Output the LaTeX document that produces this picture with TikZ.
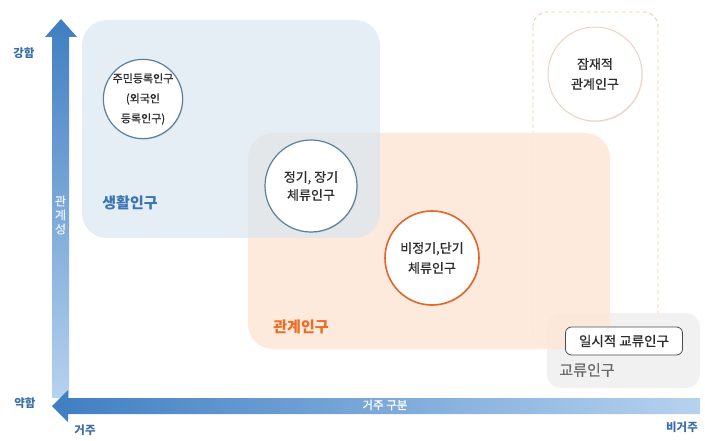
\documentclass[tikz,border=0pt]{standalone}
\usepackage{fontspec}
\setmainfont{Noto Sans CJK KR}
\newfontfamily\krmed[FakeBold=0.9]{Noto Sans CJK KR}
\usetikzlibrary{shadows}
\definecolor{bluereg}{RGB}{218,231,241}
\definecolor{orangereg}{RGB}{253,232,218}
\definecolor{grayreg}{RGB}{241,241,241}
\definecolor{dashcol}{RGB}{240,201,179}
\definecolor{circblue}{RGB}{91,127,156}
\definecolor{circorange}{RGB}{226,102,43}
\definecolor{circpeach}{RGB}{240,210,191}
\definecolor{txt}{RGB}{45,45,45}
\definecolor{lifeblue}{RGB}{59,115,181}
\definecolor{relorange}{RGB}{234,109,37}
\definecolor{exgray}{RGB}{107,107,107}
\definecolor{axisblue}{RGB}{58,110,168}
\definecolor{arrdark}{RGB}{64,126,194}
\definecolor{arrlight}{RGB}{182,210,238}
\begin{document}
\begin{tikzpicture}[x=1pt,y=-1pt,
  circ/.style={circle, fill=white, inner sep=0pt, minimum size=#1, align=center, text=txt,
    drop shadow={shadow xshift=0.8pt, shadow yshift=-1pt, opacity=0.18}},
  fs/.style 2 args={font={\krmed\fontsize{#1pt}{#2pt}\selectfont}},
  axislbl/.style={text=axisblue, font={\fontsize{11.5pt}{14pt}\selectfont\bfseries}},
  reglbl/.style={font={\fontsize{15pt}{18pt}\selectfont\bfseries}}]
\useasboundingbox (0,0) rectangle (705,441);
% dashed potential region
\draw[dashcol, line width=0.9pt, dash pattern=on 4pt off 3pt, rounded corners=14pt] (533,12) rectangle (658,345);
% exchange region
\fill[grayreg, rounded corners=14pt] (547,313) rectangle (700,388);
% relation region
\fill[orangereg, opacity=0.93, rounded corners=25pt] (248,133) rectangle (610,349);
% life region
\fill[bluereg, opacity=0.7, rounded corners=25pt] (82,20) rectangle (380,238);
% circles
\node[circ=68pt, draw=circblue, line width=1.2pt, fs={11}{20}] (c1) at (143,99) {주민등록인구\\(외국인\\등록인구)};
\node[circ=92pt, draw=circblue, line width=1.2pt, fs={13}{18}] (c2) at (311,186) {정기, 장기\\체류인구};
\node[circ=94pt, draw=circorange, line width=1.6pt, fs={13}{20}] (c3) at (432,258) {비정기,단기\\체류인구};
\node[circ=94pt, draw=circpeach, line width=1pt, fs={13}{20}] (c4) at (595,74) {잠재적\\관계인구};
% region labels
\node[reglbl, text=lifeblue] (lLife) at (130,203) {생활인구};
\node[reglbl, text=relorange] (lRel) at (301,327) {관계인구};
\node[text=exgray, font={\krmed\fontsize{15pt}{18pt}\selectfont}] (lEx) at (587,370) {교류인구};
\node[draw=txt!85, line width=0.8pt, fill=white, rounded corners=6pt, text=txt,
      minimum width=117pt, minimum height=28pt, inner sep=0pt,
      font={\krmed\fontsize{13.5pt}{16pt}\selectfont}] (tmp) at (624,341) {일시적 교류인구};
% axes
\shade[top color=arrdark, bottom color=arrlight]
  (52,398) -- (52,37) -- (45,37) -- (61,19) -- (77,37) -- (69,37) -- (69,398) -- cycle;
\shade[left color=arrdark, right color=arrlight]
  (700,398) -- (68,398) -- (68,390) -- (52,406) -- (68,422) -- (68,414) -- (700,414) -- cycle;
\node[text=white, font={\krmed\fontsize{11.5pt}{14pt}\selectfont}] (xax) at (385,405) {거주 구분};
\node[text=white, opacity=0.8, font={\krmed\fontsize{12pt}{14pt}\selectfont}, align=center, inner sep=0pt] (yax) at (60.5,215) {관\\계\\성};
\node[axislbl] (strong) at (24,53) {강함};
\node[axislbl] (weak) at (25,403) {약함};
\node[axislbl] (res) at (85,430) {거주};
\node[axislbl] (nres) at (682,427) {비거주};
\end{tikzpicture}
\end{document}
